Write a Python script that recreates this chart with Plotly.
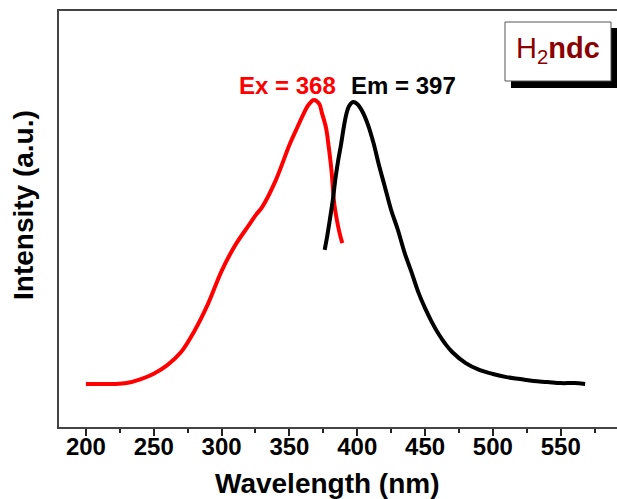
import plotly.graph_objects as go

# Excitation spectrum (red)
ex_wavelength = [200, 210, 220, 230, 240, 250, 260, 270, 280, 290, 300, 310, 320, 325, 330,
                 340, 350, 355, 360, 364, 368, 372, 374, 377, 379, 381, 383, 385, 387, 389]
ex_intensity = [0.004, 0.004, 0.004, 0.007, 0.020, 0.040, 0.070, 0.115, 0.190, 0.285, 0.400,
                0.490, 0.560, 0.595, 0.625, 0.719, 0.842, 0.895, 0.947, 0.982, 1.000, 0.986,
                0.954, 0.902, 0.835, 0.754, 0.639, 0.579, 0.533, 0.498]

# Emission spectrum (black)
em_wavelength = [376, 378, 380, 382, 384, 386, 388, 390, 392, 394, 397, 400, 404, 408, 412,
                 416, 420, 425, 430, 435, 440, 445, 450, 455, 460, 465, 470, 480, 490, 500,
                 510, 520, 530, 540, 550, 560, 568]
em_intensity = [0.474, 0.526, 0.586, 0.649, 0.726, 0.789, 0.842, 0.902, 0.951, 0.979, 0.993,
                0.986, 0.958, 0.912, 0.849, 0.772, 0.702, 0.614, 0.544, 0.463, 0.396, 0.326,
                0.270, 0.221, 0.179, 0.144, 0.116, 0.077, 0.053, 0.039, 0.028, 0.021, 0.014,
                0.011, 0.007, 0.007, 0.004]

x_ticks = [200, 250, 300, 350, 400, 450, 500, 550]
x_tick_labels = ["200", "250", "300", "350", "400", "450", "500", "550"]

W, H = 617, 499
ML, MR, MT, MB = 59, 0, 11, 72
PW, PH = W - ML - MR, H - MT - MB


def px(x):
    return (x - ML) / PW


def py(y):
    return (H - MB - y) / PH


FONT = "Liberation Sans, Arial, sans-serif"

fig = go.Figure()
fig.add_trace(go.Scatter(x=ex_wavelength, y=ex_intensity, mode="lines",
                         line=dict(color="#ff0000", width=4, shape="spline", smoothing=1),
                         showlegend=False, hoverinfo="skip"))
fig.add_trace(go.Scatter(x=em_wavelength, y=em_intensity, mode="lines",
                         line=dict(color="#000000", width=4, shape="spline", smoothing=1),
                         showlegend=False, hoverinfo="skip"))

fig.update_layout(
    width=W, height=H,
    margin=dict(l=ML, r=MR, t=MT, b=MB, pad=0),
    paper_bgcolor="white", plot_bgcolor="white",
    font=dict(family=FONT, color="black"),
    xaxis=dict(range=[180.15, 591.5], showgrid=False, zeroline=False,
               showline=True, linecolor="#444", linewidth=1.5, mirror=True,
               tickmode="array", tickvals=x_ticks, ticktext=x_tick_labels,
               ticks="outside", ticklen=7, tickwidth=1.5, tickcolor="#222",
               ticklabelstandoff=-10,
               tickfont=dict(family=FONT, size=24, color="black", weight="bold"),
               minor=dict(dtick=25, tick0=175, ticks="outside", ticklen=4,
                          tickwidth=1.5, tickcolor="#222", showgrid=False)),
    yaxis=dict(range=[-0.147, 1.312], showgrid=False, zeroline=False,
               showline=True, linecolor="#444", linewidth=1.5, mirror=False,
               showticklabels=False, ticks=""),
)

# Axis titles
fig.add_annotation(x=px(327.5), y=py(483), xref="paper", yref="paper",
                   text="Wavelength (nm)", showarrow=False,
                   font=dict(family=FONT, size=28, color="black", weight="bold"),
                   xanchor="center", yanchor="middle")
fig.add_annotation(x=px(23), y=py(205), xref="paper", yref="paper",
                   text="Intensity (a.u.)", showarrow=False, textangle=-90,
                   font=dict(family=FONT, size=28, color="black", weight="bold"),
                   xanchor="center", yanchor="middle")

# Peak labels
fig.add_annotation(x=px(287), y=py(85), xref="paper", yref="paper",
                   text="Ex = 368", showarrow=False,
                   font=dict(family=FONT, size=24, color="#ff0000", weight="bold"),
                   xanchor="center", yanchor="middle")
fig.add_annotation(x=px(403.5), y=py(85), xref="paper", yref="paper",
                   text="Em = 397", showarrow=False,
                   font=dict(family=FONT, size=24, color="black", weight="bold"),
                   xanchor="center", yanchor="middle")

# Label box with shadow
fig.add_shape(type="rect", xref="paper", yref="paper",
              x0=px(511), x1=px(617), y0=py(88), y1=py(28),
              fillcolor="black", line=dict(width=0), layer="above")
fig.add_shape(type="rect", xref="paper", yref="paper",
              x0=px(505), x1=px(611), y0=py(81), y1=py(22),
              fillcolor="white", line=dict(color="#555", width=1), layer="above")
fig.add_annotation(x=px(558), y=py(50), xref="paper", yref="paper",
                   text="H<sub>2</sub><b>ndc</b>", showarrow=False,
                   font=dict(family=FONT, size=29, color="#8b0000"),
                   xanchor="center", yanchor="middle")

fig.write_html(
    "out.html",
    config={"displayModeBar": False},
    post_script="document.body.style.margin='0';document.body.style.padding='0';"
                "document.documentElement.style.overflow='hidden';",
)
